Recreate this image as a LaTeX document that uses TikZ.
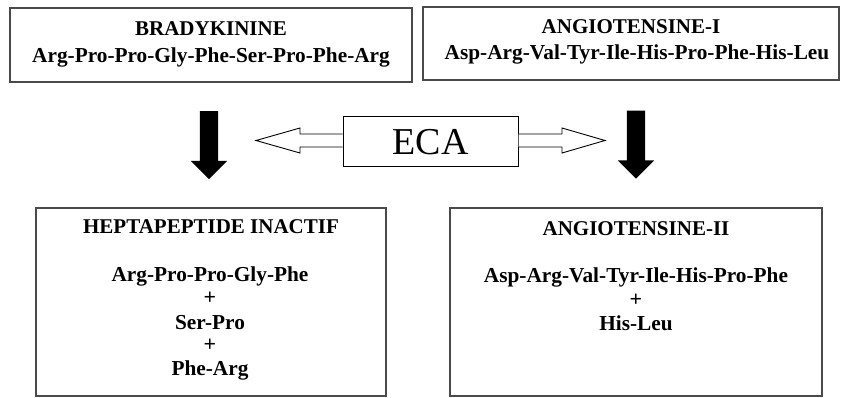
\documentclass[tikz,border=0pt]{standalone}
\usepackage{fontspec}
\setmainfont{Liberation Serif}
\usetikzlibrary{shapes.arrows}
\definecolor{frame}{HTML}{4A4A4A}
\tikzset{
  box/.style={draw=frame, line width=1.6pt, rectangle, inner sep=0pt},
  head/.style={font=\bfseries\fontsize{21}{24}\selectfont, inner sep=0pt},
  seq/.style={font=\bfseries\fontsize{21.3}{24}\selectfont, inner sep=0pt},
  plus/.style={font=\bfseries\fontsize{22}{24}\selectfont, inner sep=0pt},
  down/.style={single arrow, fill=black, draw=none, shape border rotate=270,
    minimum height=68pt, inner sep=9pt, single arrow head extend=9pt,
    single arrow tip angle=90},
  hollow/.style={draw=black, line width=0.9pt, fill=white, line join=miter}
}
\begin{document}
\begin{tikzpicture}[x=1pt, y=-1pt]
\useasboundingbox[fill=white] (0,0) rectangle (841,398);

% substrate boxes
\node[box, minimum width=402pt, minimum height=74pt] (bk) at (211,45) {};
\node[box, minimum width=416pt, minimum height=73pt] (a1) at (631,43.5) {};
\node[head] at (211,29) {BRADYKININE};
\node[seq]  at (211,57) {Arg-Pro-Pro-Gly-Phe-Ser-Pro-Phe-Arg};
\node[head] at (631,27) {ANGIOTENSINE-I};
\node[seq]  at (637,54) {Asp-Arg-Val-Tyr-Ile-His-Pro-Phe-His-Leu};

% product boxes
\node[box, minimum width=350pt, minimum height=188pt] (hp) at (211,302) {};
\node[box, minimum width=372pt, minimum height=188pt] (a2) at (636,302) {};
\node[head] at (211,227) {HEPTAPEPTIDE INACTIF};
\node[seq]  at (210,276) {Arg-Pro-Pro-Gly-Phe};
\node[plus] at (210,298) {+};
\node[seq]  at (210,323) {Ser-Pro};
\node[plus] at (210,345) {+};
\node[seq]  at (210,370) {Phe-Arg};
\node[head] at (636,229) {ANGIOTENSINE-II};
\node[seq]  at (636,277) {Asp-Arg-Val-Tyr-Ile-His-Pro-Phe};
\node[plus] at (636,300) {+};
\node[seq]  at (636,323) {His-Leu};

% conversion arrows
\node[down] (d1) at (209,140.5) {};
\node[down] (d2) at (636,140) {};

% enzyme with its double hollow arrow
\node[box, draw=black, line width=1pt, minimum width=175pt, minimum height=50pt,
      font=\fontsize{38}{42}\selectfont] (eca) at (430.5,142) {ECA};
\draw[hollow] (eca.west |- 0,134) -- (300,134) -- (300,128) -- (256,140.5)
  -- (300,153) -- (300,147) -- (eca.west |- 0,147);
\draw[hollow] (eca.east |- 0,134) -- (562,134) -- (562,128) -- (605,140.5)
  -- (562,153) -- (562,147) -- (eca.east |- 0,147);
\end{tikzpicture}
\end{document}
